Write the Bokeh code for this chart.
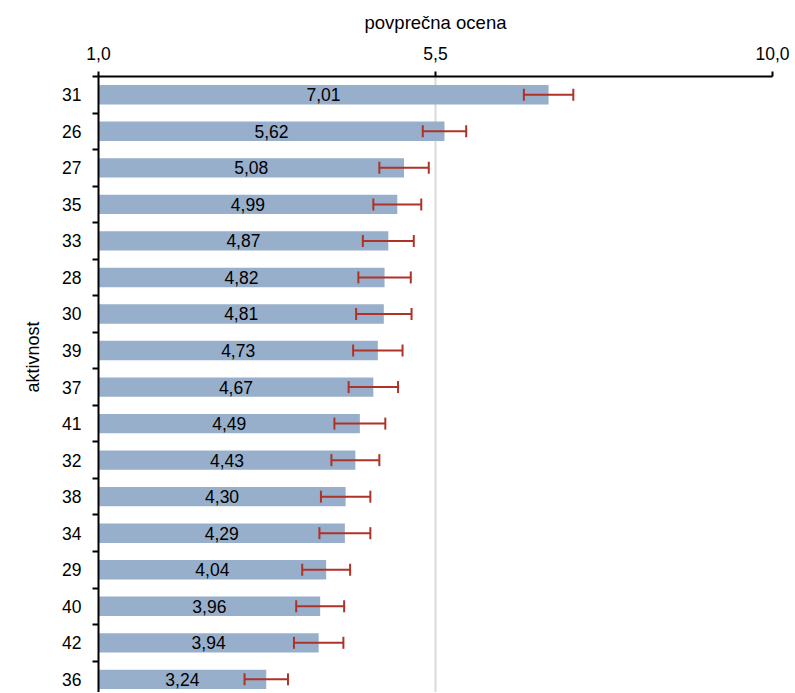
from bokeh.plotting import figure
from bokeh.models import ColumnDataSource, Range1d, FixedTicker, Whisker, TeeHead, Title
from bokeh.embed import file_html
from bokeh.resources import INLINE
from bokeh.core.properties import value

# ---- data ----
categories = ["31", "26", "27", "35", "33", "28", "30", "39", "37",
              "41", "32", "38", "34", "29", "40", "42", "36"]
means = [7.01, 5.62, 5.08, 4.99, 4.87, 4.82, 4.81, 4.73, 4.67,
         4.49, 4.43, 4.30, 4.29, 4.04, 3.96, 3.94, 3.24]
errors = [0.33, 0.29, 0.33, 0.32, 0.34, 0.35, 0.37, 0.33, 0.33,
          0.34, 0.32, 0.33, 0.34, 0.32, 0.32, 0.33, 0.29]
x_ticks = [1.0, 5.5, 10.0]
x_tick_labels = ["1,0", "5,5", "10,0"]
x_title = "povprečna ocena"
y_title = "aktivnost"

FONT = "Liberation Sans"
BAR = "#98AFCB"
ERR = "#AF3228"

pos = list(range(len(categories)))
src = ColumnDataSource(dict(
    y=pos,
    mean=means,
    mid=[(x_ticks[0] + m) / 2 for m in means],
    lower=[m - e for m, e in zip(means, errors)],
    upper=[m + e for m, e in zip(means, errors)],
    label=[f"{m:.2f}".replace(".", ",") for m in means],
))

p = figure(width=790, height=692, output_backend="svg", toolbar_location=None,
           x_range=Range1d(x_ticks[0], x_ticks[-1]), y_range=Range1d(16.36, -0.5),
           x_axis_location="above", min_border_left=98, min_border_right=18,
           min_border_top=76, min_border_bottom=0)
p.outline_line_color = None
p.background_fill_color = "white"

p.hbar(y="y", left=x_ticks[0], right="mean", height=0.53, fill_color=BAR,
       line_color=None, source=src)

w = Whisker(base="y", lower="lower", upper="upper", dimension="width", source=src,
            line_color=ERR, line_width=2, level="overlay",
            lower_head=TeeHead(size=12, line_color=ERR, line_width=2),
            upper_head=TeeHead(size=12, line_color=ERR, line_width=2))
p.add_layout(w)

p.text(x="mid", y="y", text="label", source=src, text_font=value(FONT),
       text_font_size="17.5px", text_align="center", text_baseline="middle",
       text_color="black")

# x axis (top)
xa = p.xaxis[0]
xa.ticker = FixedTicker(ticks=x_ticks, minor_ticks=[])
xa.major_label_overrides = {t: l for t, l in zip(x_ticks, x_tick_labels)}
xa.major_label_text_font = FONT
xa.major_label_text_font_size = "17.5px"
xa.major_label_text_color = "black"
xa.major_tick_out = 5
xa.major_tick_in = 0
xa.minor_tick_out = 0
xa.minor_tick_in = 0
xa.major_label_standoff = 12
xa.axis_line_width = 2
xa.axis_line_color = "black"
xa.major_tick_line_width = 2
xa.axis_label = x_title
xa.axis_label_text_font = FONT
xa.axis_label_text_font_style = "normal"
xa.axis_label_text_font_size = "18.5px"
xa.axis_label_text_color = "black"
xa.axis_label_standoff = 11

p.xgrid.ticker = FixedTicker(ticks=x_ticks)
p.xgrid.grid_line_color = "#D9D9D9"
p.xgrid.grid_line_width = 2
p.ygrid.grid_line_color = None

# y axis (left)
ya = p.yaxis[0]
ya.ticker = FixedTicker(ticks=pos, minor_ticks=[i - 0.5 for i in range(len(categories) + 1)])
ya.major_label_overrides = {i: c for i, c in zip(pos, categories)}
ya.major_label_text_font = FONT
ya.major_label_text_font_size = "17.5px"
ya.major_label_text_color = "black"
ya.major_tick_out = 0
ya.major_tick_in = 0
ya.minor_tick_out = 6
ya.minor_tick_in = 0
ya.minor_tick_line_width = 2
ya.minor_tick_line_color = "black"
ya.major_label_standoff = 11
ya.axis_line_width = 2
ya.axis_line_color = "black"

p.add_layout(Title(text=y_title, align="left", offset=300, vertical_align="middle",
                   text_font=FONT, text_font_size="18px", text_font_style="normal",
                   text_color="black", standoff=32), "left")

open("out.html", "w").write(file_html(p, INLINE))
